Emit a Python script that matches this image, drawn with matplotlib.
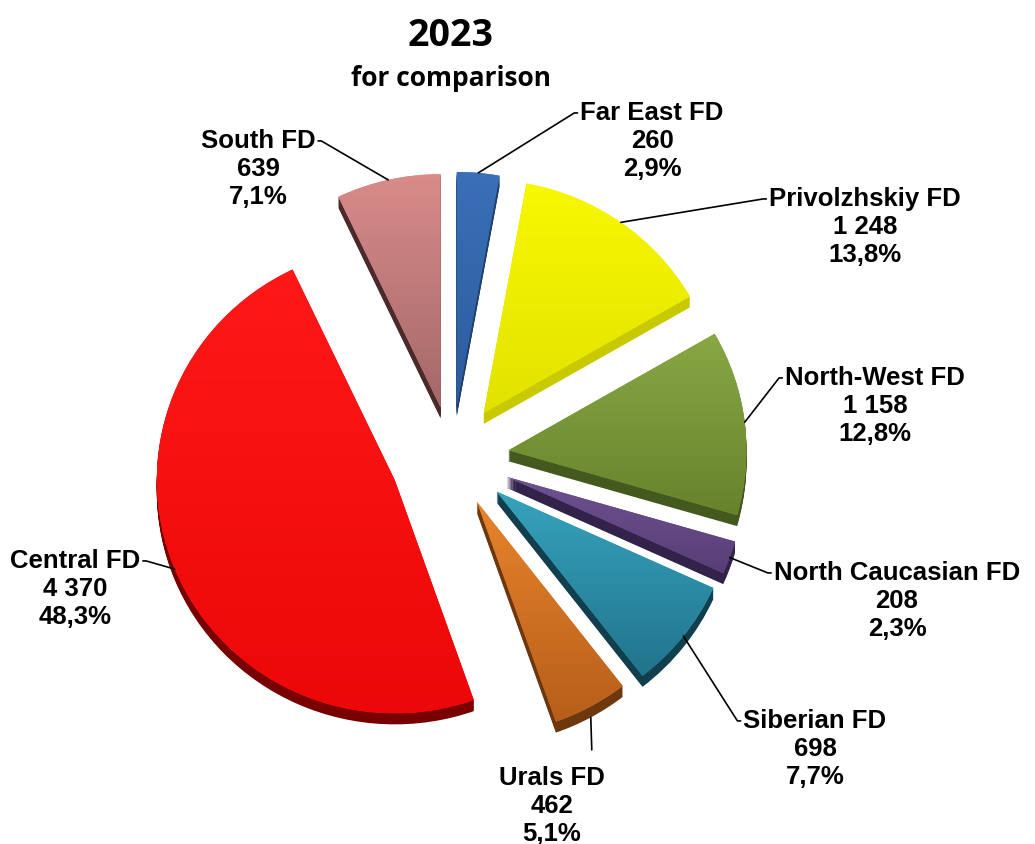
import matplotlib.pyplot as plt
import numpy as np
from matplotlib.colors import LinearSegmentedColormap

# data, clockwise from 12 o'clock
regions = ["Far East FD", "Privolzhskiy FD", "North-West FD", "North Caucasian FD",
           "Siberian FD", "Urals FD", "Central FD", "South FD"]
values = [260, 1248, 1158, 208, 698, 462, 4370, 639]

# styling
explode = [0.223, 0.231, 0.239, 0.244, 0.239, 0.218, 0.26, 0.218]
top_colors = ["#3a70b8", "#f8f800", "#88a845", "#6e5292", "#37a3be", "#e8842c", "#ff1818", "#d98c8a"]
bottom_colors = ["#2b5c9c", "#e2e200", "#66832c", "#583e76", "#21748c", "#b65e1a", "#ec0808", "#a36868"]
side_colors = ["#1f416e", "#c9c900", "#43591d", "#33224a", "#123f4d", "#6e380f", "#780000", "#4a2a2a"]

# label centres (pixels from top-left) and where the leader leaves the text
label_xy = [(652, 141), (865, 227), (875, 406), (897, 601), (815, 749), (552, 806), (75, 589), (258, 169)]
label_side = ["left", "left", "left", "left", "left", "top", "right", "right"]

W, H = 1035, 845
R = 238
depth = 11
squash = 0.98          # slight tilt: y pixels per data unit
cx, sy0 = 452, 458     # pie centre in pixels


def ypix(sy):
    # screen y (from top) -> data y
    return (H - sy) / squash


cy = ypix(sy0)

fig = plt.figure(figsize=(W / 100, H / 100), dpi=100)
ax = fig.add_axes([0, 0, 1, 1])

total = sum(values)
offsets = [e * R for e in explode]

# extruded side of each slice
for d in range(depth, 0, -1):
    ax.pie(values, explode=offsets, radius=R, center=(cx, cy - d / squash), startangle=90,
           counterclock=False, colors=side_colors, wedgeprops=dict(linewidth=0, zorder=1))

wedges, _ = ax.pie(values, explode=offsets, radius=R, center=(cx, cy), startangle=90,
                   counterclock=False, colors=top_colors, wedgeprops=dict(linewidth=0, zorder=2))

# vertical gradient on the top faces
grad = np.linspace(0, 1, 256).reshape(-1, 1)
for w, c_top, c_bot in zip(wedges, top_colors, bottom_colors):
    ext = w.get_path().get_extents()
    cmap = LinearSegmentedColormap.from_list("g", [c_bot, c_top])
    im = ax.imshow(grad, cmap=cmap, origin="lower", aspect="auto", zorder=3,
                   extent=[ext.x0, ext.x1, ext.y0, ext.y1], interpolation="bilinear")
    im.set_clip_path(w)

font = dict(family="Liberation Sans", weight="bold", size=18.5)
for w, name, v, (lx, ly), side in zip(wedges, regions, values, label_xy, label_side):
    mid = np.deg2rad((w.theta1 + w.theta2) / 2)
    px = w.center[0] + w.r * np.cos(mid)
    py = w.center[1] + w.r * np.sin(mid)
    pct = f"{100 * v / total:.1f}".replace(".", ",")
    txt = f"{name}\n{v:,}".replace(",", " ") + f"\n{pct}%"
    if side == "left":
        arrow = dict(relpos=(0, 0.84), shrinkA=0,
                     connectionstyle="arc,angleA=180,armA=6,angleB=0,armB=0,rad=0")
    elif side == "right":
        arrow = dict(relpos=(1, 0.84), shrinkA=0,
                     connectionstyle="arc,angleA=0,armA=6,angleB=0,armB=0,rad=0")
    else:
        py -= depth / squash
        arrow = dict(relpos=((px - lx + 51) / 102, 1.0), shrinkA=9, connectionstyle="arc3")
    ax.annotate(txt, xy=(px, py), xytext=(lx, ypix(ly)), ha="center", va="center",
                linespacing=1.2, zorder=5, **font,
                arrowprops=dict(arrowstyle="-", color="black", lw=1.2, shrinkB=0, **arrow))

ax.text(451, ypix(36), "2023", ha="center", va="center", fontsize=27, fontweight="bold", family="Open Sans")
ax.text(451, ypix(78), "for comparison", ha="center", va="center", fontsize=19, fontweight="bold", family="Open Sans")

ax.set_xlim(0, W)
ax.set_ylim(0, H / squash)
ax.set_aspect("auto")
ax.axis("off")

fig.savefig("out.png", dpi=100, facecolor="white")
